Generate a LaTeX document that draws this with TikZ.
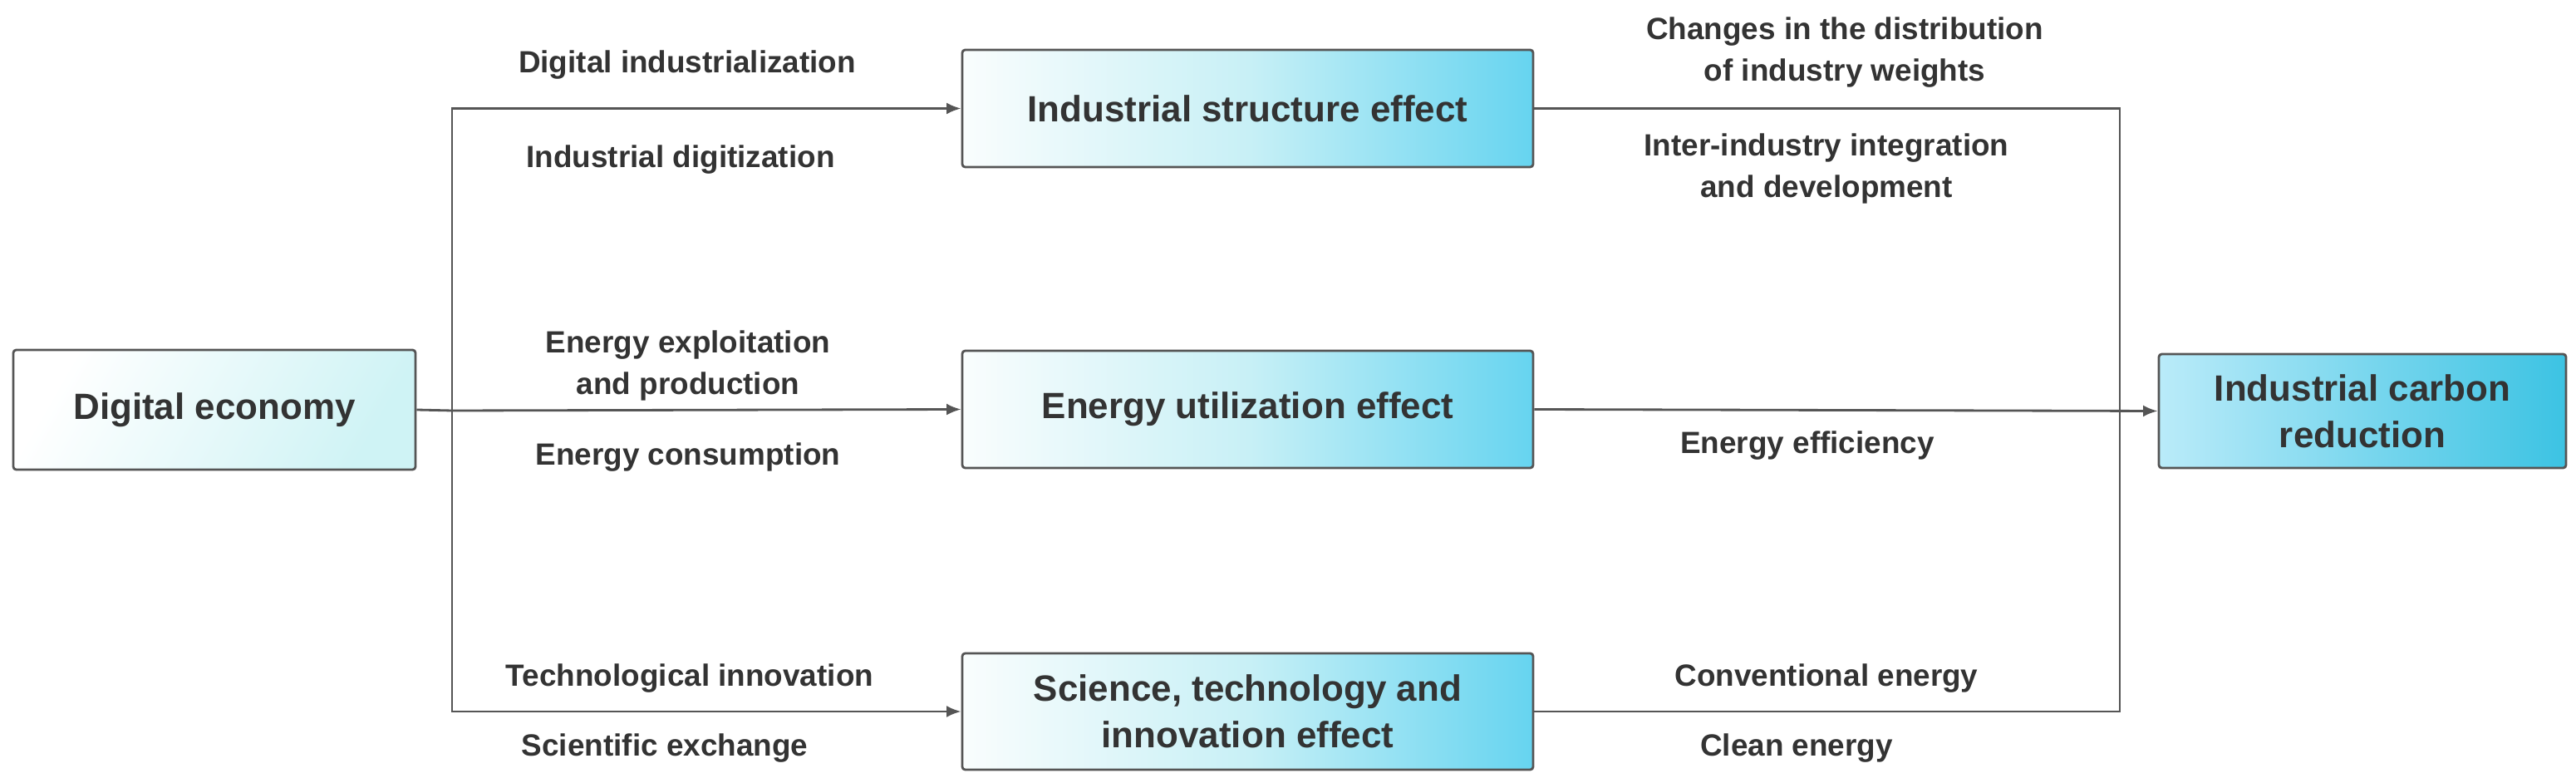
\documentclass[tikz,border=0pt]{standalone}
\usepackage{fontspec}
\setmainfont{Liberation Sans}
\usetikzlibrary{arrows.meta}
\definecolor{txt}{HTML}{333333}
\definecolor{bd}{HTML}{555555}
\begin{document}
\begin{tikzpicture}[
  box/.style={draw=bd, line width=0.8pt, rounded corners=1pt, text=txt, font=\fontsize{12.5}{16}\selectfont\bfseries, align=center, inner sep=0pt},
  effbox/.style={box, left color=cyan!8!white!85!teal!10, right color={rgb,255:red,102;green,212;blue,240}, middle color={rgb,255:red,200;green,240;blue,246}},
  lbl/.style={text=txt, font=\fontsize{10.5}{14}\selectfont\bfseries, align=center},
  conn/.style={draw=bd, line width=0.8pt},
  arr/.style={conn, -{Latex[length=5pt,width=4pt]}}
]
\useasboundingbox (0,0) rectangle (31,-9.42);
\node[box, minimum width=4.84cm, minimum height=1.44cm, left color=white, right color={rgb,255:red,207;green,243;blue,245}, shading angle=60] (de) at (2.58,-4.93) {Digital economy};
\node[effbox, minimum width=6.87cm, minimum height=1.41cm] (ise) at (15.015,-1.305) {Industrial structure effect};
\node[effbox, minimum width=6.87cm, minimum height=1.41cm] (eue) at (15.015,-4.925) {Energy utilization effect};
\node[effbox, minimum width=6.87cm, minimum height=1.40cm] (sti) at (15.015,-8.56) {Science, technology and\\innovation effect};
\node[box, minimum width=4.90cm, minimum height=1.37cm, left color={rgb,255:red,186;green,235;blue,249}, right color={rgb,255:red,60;green,195;blue,227}] (icr) at (28.43,-4.945) {Industrial carbon\\reduction};
\coordinate (bx) at (5.44,-4.94);
\coordinate (rx) at (25.51,-4.94);
\draw[conn] (de.east) -- (bx);
\draw[arr] (bx) |- (ise.west);
\draw[arr] (bx) -- (eue.west);
\draw[arr] (bx) |- (sti.west);
\draw[conn] (ise.east) -| (rx);
\draw[conn] (sti.east) -| (rx);
\draw[arr] (eue.east) -- (icr.west);
\node[lbl] (l1) at (8.27,-0.78) {Digital industrialization};
\node[lbl] (l2) at (8.19,-1.92) {Industrial digitization};
\node[lbl] (l3) at (8.28,-4.40) {Energy exploitation\\and production};
\node[lbl] (l4) at (8.28,-5.50) {Energy consumption};
\node[lbl] (l5) at (8.30,-8.16) {Technological innovation};
\node[lbl] (l6) at (8.00,-9.00) {Scientific exchange};
\node[lbl] (r1) at (22.20,-0.63) {Changes in the distribution\\of industry weights};
\node[lbl] (r2) at (21.98,-2.03) {Inter-industry integration\\and development};
\node[lbl] (r3) at (21.75,-5.36) {Energy efficiency};
\node[lbl] (r4) at (21.98,-8.16) {Conventional energy};
\node[lbl] (r5) at (21.62,-9.00) {Clean energy};
\end{tikzpicture}
\end{document}
